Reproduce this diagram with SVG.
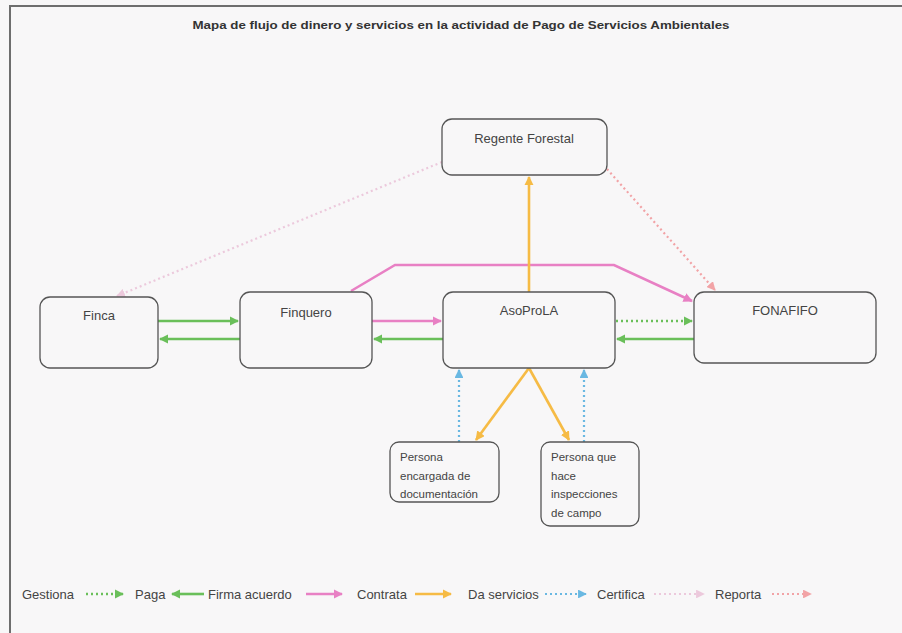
<svg xmlns="http://www.w3.org/2000/svg" width="902" height="633" viewBox="0 0 902 633">
<defs>
<style>
.bg{fill:#f8f7f8}
.frame{fill:none;stroke:#6e6e6e;stroke-width:2}
.box{fill:#f8f7f8;stroke:#555;stroke-width:1.3}
.t{font-family:"Liberation Sans",Arial,sans-serif;font-size:13px;fill:#444;text-anchor:middle}
.s{font-family:"Liberation Sans",Arial,sans-serif;font-size:11.5px;fill:#444}
.lg{font-family:"Liberation Sans",Arial,sans-serif;font-size:13px;fill:#444}
.title{font-family:"Liberation Sans",Arial,sans-serif;font-size:11.5px;font-weight:bold;fill:#333;text-anchor:middle}
.green{fill:none;stroke:#6abf5a;stroke-width:2.6}
.gdot{fill:none;stroke:#6abf5a;stroke-width:2.6;stroke-dasharray:2 3}
.pink{fill:none;stroke:#e880c4;stroke-width:2.6}
.orange{fill:none;stroke:#f6bb45;stroke-width:2.6}
.blue{fill:none;stroke:#6ab8e2;stroke-width:2.2;stroke-dasharray:2 3}
.lpink{fill:none;stroke:#ecc9dc;stroke-width:2.2;stroke-dasharray:2 3}
.salmon{fill:none;stroke:#f2a3a6;stroke-width:2.2;stroke-dasharray:2 3}
</style>
<marker id="mg" viewBox="0 0 10 10" refX="9" refY="5" markerWidth="3.6" markerHeight="3.6" orient="auto" markerUnits="strokeWidth"><path d="M0,0 L10,5 L0,10 z" fill="#6abf5a"/></marker>
<marker id="mp" viewBox="0 0 10 10" refX="9" refY="5" markerWidth="3.6" markerHeight="3.6" orient="auto" markerUnits="strokeWidth"><path d="M0,0 L10,5 L0,10 z" fill="#e880c4"/></marker>
<marker id="mo" viewBox="0 0 10 10" refX="9" refY="5" markerWidth="3.6" markerHeight="3.6" orient="auto" markerUnits="strokeWidth"><path d="M0,0 L10,5 L0,10 z" fill="#f6bb45"/></marker>
<marker id="mb" viewBox="0 0 10 10" refX="9" refY="5" markerWidth="4" markerHeight="4" orient="auto" markerUnits="strokeWidth"><path d="M0,0 L10,5 L0,10 z" fill="#6ab8e2"/></marker>
<marker id="ml" viewBox="0 0 10 10" refX="9" refY="5" markerWidth="4" markerHeight="4" orient="auto" markerUnits="strokeWidth"><path d="M0,0 L10,5 L0,10 z" fill="#ecc9dc"/></marker>
<marker id="ms" viewBox="0 0 10 10" refX="9" refY="5" markerWidth="4" markerHeight="4" orient="auto" markerUnits="strokeWidth"><path d="M0,0 L10,5 L0,10 z" fill="#f2a3a6"/></marker>
</defs>
<rect class="bg" x="0" y="0" width="902" height="633"/>
<path class="frame" d="M10,633 L10,6 L902,6"/>
<text class="title" x="461" y="29" textLength="537" lengthAdjust="spacingAndGlyphs">Mapa de flujo de dinero y servicios en la actividad de Pago de Servicios Ambientales</text>

<g id="connectors">
<line class="green" x1="158" y1="321" x2="238" y2="321" marker-end="url(#mg)"/>
<line class="green" x1="240" y1="339" x2="160" y2="339" marker-end="url(#mg)"/>
<line class="pink" x1="372" y1="321" x2="441" y2="321" marker-end="url(#mp)"/>
<line class="green" x1="443" y1="339" x2="374" y2="339" marker-end="url(#mg)"/>
<line class="gdot" x1="616" y1="321" x2="692" y2="321" marker-end="url(#mg)"/>
<line class="green" x1="694" y1="339" x2="617" y2="339" marker-end="url(#mg)"/>
<polyline class="pink" points="351,291 395,265 614,265 692,301" marker-end="url(#mp)"/>
<line class="orange" x1="529" y1="292" x2="529" y2="177" marker-end="url(#mo)"/>
<line class="lpink" x1="442" y1="162" x2="117" y2="296" marker-end="url(#ml)"/>
<line class="salmon" x1="607" y1="169" x2="715" y2="290" marker-end="url(#ms)"/>
<line class="orange" x1="529" y1="368" x2="476" y2="440" marker-end="url(#mo)"/>
<line class="orange" x1="529" y1="368" x2="569" y2="440" marker-end="url(#mo)"/>
<line class="blue" x1="459" y1="442" x2="459" y2="370" marker-end="url(#mb)"/>
<line class="blue" x1="584" y1="442" x2="584" y2="370" marker-end="url(#mb)"/>
</g>

<g id="regente"><rect class="box" x="442" y="119" width="165" height="56" rx="10"/><text class="t" x="524" y="143">Regente Forestal</text></g>
<g id="finca"><rect class="box" x="40" y="297" width="118" height="71" rx="10"/><text class="t" x="99" y="320">Finca</text></g>
<g id="finquero"><rect class="box" x="240" y="292" width="132" height="76" rx="10"/><text class="t" x="306" y="317">Finquero</text></g>
<g id="asoprola"><rect class="box" x="443" y="292" width="172" height="76" rx="10"/><text class="t" x="529" y="315">AsoProLA</text></g>
<g id="fonafifo"><rect class="box" x="694" y="292" width="182" height="71" rx="10"/><text class="t" x="785" y="315">FONAFIFO</text></g>
<g id="persona-doc"><rect class="box" x="390" y="442" width="109" height="60" rx="9"/>
<text class="s" x="400" y="461">Persona</text><text class="s" x="400" y="480">encargada de</text><text class="s" x="400" y="498">documentación</text></g>
<g id="persona-insp"><rect class="box" x="541" y="442" width="98" height="84" rx="9"/>
<text class="s" x="551" y="461">Persona que</text><text class="s" x="551" y="480">hace</text><text class="s" x="551" y="498">inspecciones</text><text class="s" x="551" y="517">de campo</text></g>

<g id="legend">
<text class="lg" x="22" y="599">Gestiona</text>
<line class="gdot" x1="86" y1="594" x2="123" y2="594" marker-end="url(#mg)"/>
<text class="lg" x="135" y="599">Paga</text>
<line class="green" x1="204" y1="594" x2="172" y2="594" marker-end="url(#mg)"/>
<text class="lg" x="208" y="599">Firma acuerdo</text>
<line class="pink" x1="306" y1="594" x2="342" y2="594" marker-end="url(#mp)"/>
<text class="lg" x="357" y="599">Contrata</text>
<line class="orange" x1="415" y1="594" x2="451" y2="594" marker-end="url(#mo)"/>
<text class="lg" x="468" y="599">Da servicios</text>
<line class="blue" x1="545" y1="594" x2="586" y2="594" marker-end="url(#mb)"/>
<text class="lg" x="597" y="599">Certifica</text>
<line class="lpink" x1="654" y1="594" x2="704" y2="594" marker-end="url(#ml)"/>
<text class="lg" x="715" y="599">Reporta</text>
<line class="salmon" x1="772" y1="594" x2="811" y2="594" marker-end="url(#ms)"/>
</g>
</svg>
